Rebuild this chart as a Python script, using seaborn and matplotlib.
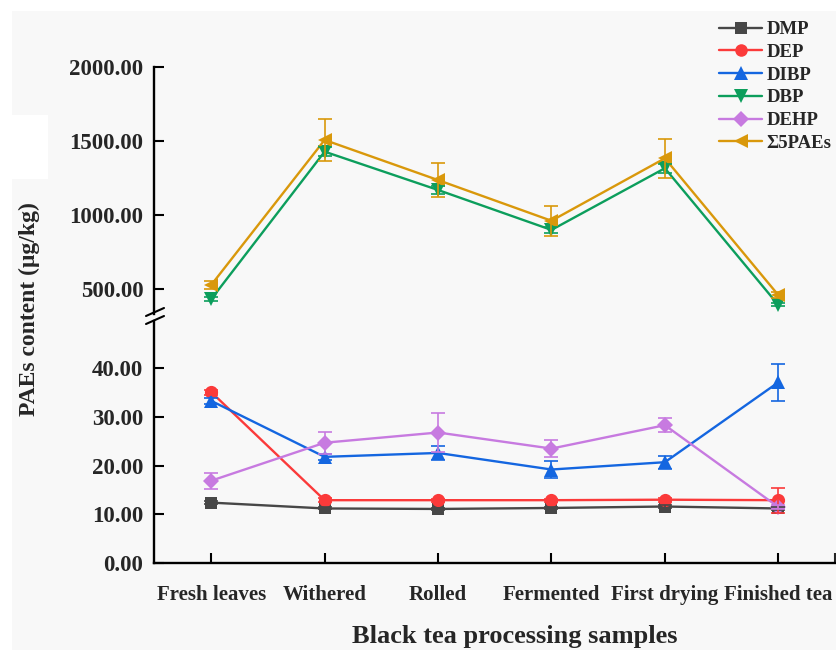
import numpy as np
import pandas as pd
import matplotlib
matplotlib.use("Agg")
import matplotlib.pyplot as plt
from matplotlib.lines import Line2D
from matplotlib.patches import Rectangle
import seaborn as sns

# Processing stages
stages = ["Fresh leaves", "Withered", "Rolled", "Fermented", "First drying", "Finished tea"]

# Mean contents (µg/kg) and standard deviations
dmp = [12.4, 11.2, 11.1, 11.3, 11.6, 11.2]
dmp_sd = [0.3, 0.2, 0.2, 0.2, 0.3, 0.3]
dep = [35.1, 12.9, 12.9, 12.9, 13.0, 12.9]
dep_sd = [0.5, 0.4, 0.3, 0.3, 0.4, 2.6]
dibp = [33.3, 21.8, 22.6, 19.2, 20.7, 37.1]
dibp_sd = [0.6, 0.6, 1.5, 1.8, 1.3, 3.8]
dbp = [431, 1428, 1169, 899, 1316, 392]
dbp_sd = [15, 30, 25, 20, 30, 10]
dehp = [16.9, 24.7, 26.8, 23.5, 28.3, 11.5]
dehp_sd = [1.6, 2.3, 4.0, 1.8, 1.4, 0.5]
total = [527, 1507, 1236, 961, 1383, 459]
total_sd = [25, 140, 113, 100, 133, 20]

series_names = ["DMP", "DEP", "DIBP", "DBP", "DEHP", "Σ5PAEs"]
series_vals = [dmp, dep, dibp, dbp, dehp, total]
series_sd = [dmp_sd, dep_sd, dibp_sd, dbp_sd, dehp_sd, total_sd]
upper_series = {"DBP", "Σ5PAEs"}

colors = {"DMP": "#474747", "DEP": "#fb3a3a", "DIBP": "#1466e0",
          "DBP": "#0c9e5c", "DEHP": "#c77ae0", "Σ5PAEs": "#d9980b"}
markers = {"DMP": "s", "DEP": "o", "DIBP": "^", "DBP": "v", "DEHP": "D", "Σ5PAEs": "<"}
msizes = {"DMP": 8.5, "DEP": 9.5, "DIBP": 10, "DBP": 10, "DEHP": 8.5, "Σ5PAEs": 10}

rows = []
for name, vals, sds in zip(series_names, series_vals, series_sd):
    for st, v, s in zip(stages, vals, sds):
        rows.append({"stage": st, "series": name, "value": v, "sd": s})
df = pd.DataFrame(rows)

sns.set_theme(style="ticks")
plt.rcParams["font.family"] = ["Liberation Serif", "DejaVu Serif"]
plt.rcParams["font.weight"] = "bold"

W, H = 837, 650
fig = plt.figure(figsize=(W / 100, H / 100), dpi=100)
fig.patch.set_facecolor("white")
bg = "#f8f8f8"
fig.add_artist(Rectangle((12 / W, 0), 1, 1 - 11 / H, transform=fig.transFigure,
                         facecolor=bg, edgecolor="none", zorder=-10))
fig.add_artist(Rectangle((12 / W, 1 - 179 / H), 36 / W, 64 / H, transform=fig.transFigure,
                         facecolor="white", edgecolor="none", zorder=-9))

x0, x1 = 154.5, 835
ax_top = fig.add_axes([x0 / W, 1 - 314 / H, (x1 - x0) / W, (314 - 67) / H])
ax_bot = fig.add_axes([x0 / W, 1 - 563 / H, (x1 - x0) / W, (563 - 321) / H])

for ax, keep in ((ax_top, True), (ax_bot, False)):
    ax.set_facecolor("none")
    sub = df[df["series"].isin(upper_series) == keep]
    names = [n for n in series_names if (n in upper_series) == keep]
    sns.lineplot(data=sub, x="stage", y="value", hue="series", style="series",
                 hue_order=names, style_order=names,
                 palette=colors, markers=markers, dashes=False,
                 linewidth=1.7, markeredgewidth=0, legend=False, ax=ax, sort=False)
    for line, n in zip(ax.get_lines(), names):
        line.set_markersize(msizes[n])
        line.set_clip_on(False)
    for n in names:
        d = sub[sub["series"] == n]
        ax.errorbar(d["stage"], d["value"], yerr=d["sd"], fmt="none",
                    ecolor=colors[n], elinewidth=1.2, capsize=5, capthick=1.2, zorder=3)
    ax.set_xlim(-0.5, 5.5)
    ax.set_xlabel("")
    ax.set_ylabel("")
    for s in ("top", "right"):
        ax.spines[s].set_visible(False)
    for s in ("left", "bottom"):
        ax.spines[s].set_linewidth(1.7)
        ax.spines[s].set_color("black")
    ax.tick_params(axis="both", direction="in", length=7, width=1.5, color="black")
    ax.tick_params(axis="y", labelsize=16.5, pad=8)

ax_top.set_ylim(331, 2000)
ax_top.set_yticks([500, 1000, 1500, 2000])
ax_top.spines["bottom"].set_visible(False)
ax_top.tick_params(axis="x", bottom=False, labelbottom=False)

ax_bot.set_ylim(0, 49.7)
ax_bot.set_yticks([0, 10, 20, 30, 40])
ax_bot.set_xticks(range(len(stages)))
ax_bot.set_xticks([5.5], minor=True)
ax_bot.tick_params(axis="x", which="minor", direction="in", length=7, width=1.5)
ax_bot.tick_params(axis="x", labelsize=15, pad=16)

for ax in (ax_top, ax_bot):
    ax.yaxis.set_major_formatter(matplotlib.ticker.FormatStrFormatter("%.2f"))
    for lab in ax.get_yticklabels() + ax.get_xticklabels():
        lab.set_fontweight("bold")

# axis break marks
for yb in (312, 320):
    fig.add_artist(Line2D([146 / W, 164 / W], [1 - (yb + 4) / H, 1 - (yb - 4) / H],
                          transform=fig.transFigure, color="black", lw=1.5))

fig.text(29 / W, 1 - 309 / H, "PAEs content (μg/kg)", rotation=90, ha="center",
         va="center", fontsize=17, fontweight="bold")
fig.text(515 / W, 7 / H, "Black tea processing samples", ha="center",
         va="baseline", fontsize=19, fontweight="bold")

handles = [Line2D([], [], color=colors[n], marker=markers[n], markersize=msizes[n] * 0.95,
                  markeredgewidth=0, lw=1.7) for n in series_names]
fig.legend(handles, series_names, loc="upper left", bbox_to_anchor=(719 / W, 1 - 21 / H),
           frameon=False, handlelength=2.3, handletextpad=0.25, borderaxespad=0,
           labelspacing=0.3, borderpad=0, prop={"weight": "bold", "size": 13.5})

fig.savefig("out.png", dpi=100, facecolor="white")
